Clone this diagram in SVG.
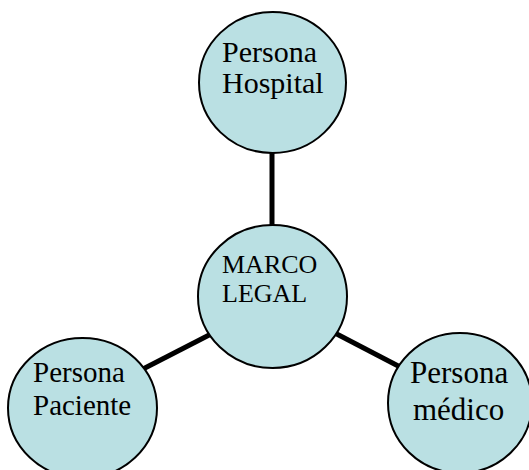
<svg xmlns="http://www.w3.org/2000/svg" width="529" height="470" viewBox="0 0 529 470">
  <style>
    .node { fill: #BAE0E3; stroke: #000; stroke-width: 2; }
    .link { stroke: #000; stroke-width: 5; fill: none; }
    .lbl { font-family: "Liberation Serif", "Times New Roman", serif; fill: #000; }
  </style>
  <rect width="529" height="470" fill="#fff"/>
  <g id="connectors">
    <line class="link" x1="272" y1="150" x2="272" y2="228"/>
    <line class="link" x1="215" y1="332" x2="143" y2="369"/>
    <line class="link" x1="331" y1="331" x2="404" y2="369"/>
  </g>
  <g id="hospital">
    <ellipse class="node" cx="272.5" cy="82.5" rx="73.5" ry="70.5"/>
    <text class="lbl" font-size="30" x="222" y="62">Persona</text>
    <text class="lbl" font-size="30" x="222" y="93">Hospital</text>
  </g>
  <g id="marco-legal">
    <ellipse class="node" cx="272.5" cy="296.5" rx="74.5" ry="71.5"/>
    <text class="lbl" font-size="26" x="222" y="273">MARCO</text>
    <text class="lbl" font-size="26" x="222" y="302">LEGAL</text>
  </g>
  <g id="paciente">
    <ellipse class="node" cx="82.5" cy="408" rx="74.5" ry="70"/>
    <text class="lbl" font-size="29" x="33" y="382">Persona</text>
    <text class="lbl" font-size="29" x="33" y="415">Paciente</text>
  </g>
  <g id="medico">
    <ellipse class="node" cx="460" cy="403" rx="72" ry="70"/>
    <text class="lbl" font-size="31" x="410" y="383">Persona</text>
    <text class="lbl" font-size="31" x="413" y="420">médico</text>
  </g>
</svg>
